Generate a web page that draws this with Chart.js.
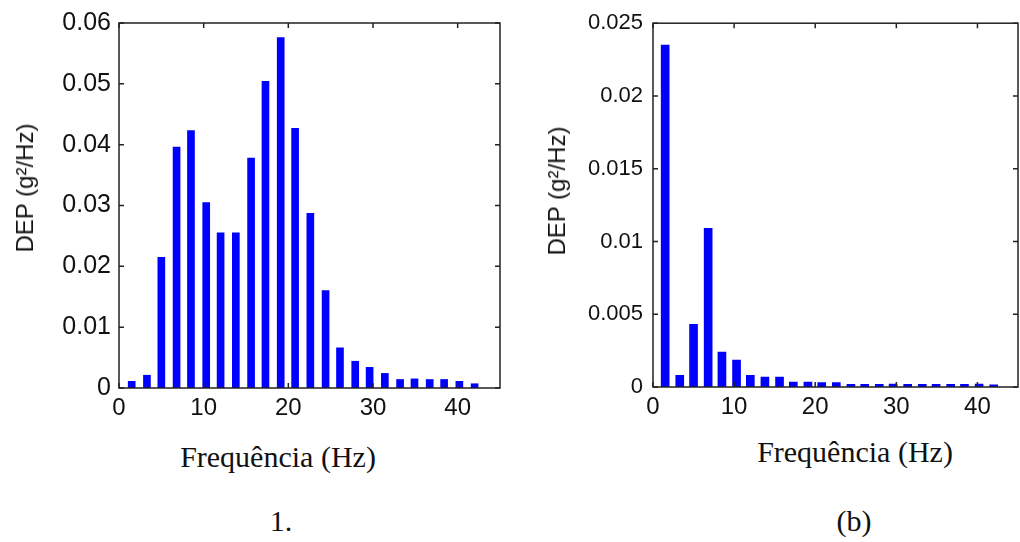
<!DOCTYPE html>
<html>
<head>
<meta charset="utf-8">
<script src="https://cdn.jsdelivr.net/npm/chart.js@4.4.1/dist/chart.umd.min.js"></script>
<style>
    html, body { margin: 0; padding: 0; background: #fff; }
    #pagina { position: relative; width: 1020px; height: 542px; overflow: hidden; }
    .grafico { position: absolute; top: 0; width: 510px; height: 430px; }
    .titulo-y { position: absolute; font: 24px "Liberation Sans", Arial, sans-serif; color: #111;
        white-space: nowrap; transform: translate(-50%, -50%) rotate(-90deg); }
    .titulo-x, .legenda { position: absolute; font: 30px "Liberation Serif", "Times New Roman", serif; color: #111;
        white-space: nowrap; transform: translateX(-50%); line-height: 34px; }
</style>
</head>
<body>
<div id="pagina">
    <div class="grafico" style="left:0"><canvas id="graficoA" width="510" height="430"></canvas></div>
    <div class="grafico" style="left:510px"><canvas id="graficoB" width="510" height="430"></canvas></div>
    <div class="titulo-y" style="left:25px; top:188px">DEP (g²/Hz)</div>
    <div class="titulo-y" style="left:557px; top:191px">DEP (g²/Hz)</div>
    <div class="titulo-x" style="left:278px; top:440px">Frequência (Hz)</div>
    <div class="titulo-x" style="left:855px; top:435px">Frequência (Hz)</div>
    <div class="legenda" style="left:281px; top:504px">1.</div>
    <div class="legenda" style="left:854px; top:504px">(b)</div>
</div>
<script>
// frequencias (Hz) das barras, iguais nos dois graficos
const frequencias = [1.5, 3.3, 5.0, 6.8, 8.5, 10.3, 12.0, 13.8, 15.6, 17.3, 19.1, 20.8,
    22.6, 24.4, 26.1, 27.9, 29.6, 31.4, 33.2, 34.9, 36.7, 38.4, 40.2, 42.0];

// DEP (g²/Hz) - grafico 1
const depA = [0.0011, 0.0021, 0.0215, 0.0396, 0.0423, 0.0305, 0.0255, 0.0255, 0.0378, 0.0504, 0.0576, 0.0427,
    0.0287, 0.0160, 0.0066, 0.0044, 0.0034, 0.0024, 0.0014, 0.0015, 0.0014, 0.0014, 0.0011, 0.0007];

// DEP (g²/Hz) - grafico (b)
const depB = [0.0235, 0.0008, 0.0043, 0.0109, 0.0024, 0.00185, 0.0008, 0.00068, 0.00068, 0.00034, 0.00034, 0.0003,
    0.0003, 0.00018, 0.00018, 0.00018, 0.0002, 0.00018, 0.00018, 0.00018, 0.00018, 0.00018, 0.0002, 0.00015];

const ticksX = [0, 10, 20, 30, 40];
const ticksYA = [0, 0.01, 0.02, 0.03, 0.04, 0.05, 0.06];
const ticksYB = [0, 0.005, 0.01, 0.015, 0.02, 0.025];

const caixaMatlab = {
    id: 'caixaMatlab',
    afterDraw(chart) {
        const { ctx, chartArea: a, scales } = chart;
        const t = 5;
        ctx.save();
        ctx.strokeStyle = '#222';
        ctx.lineWidth = 1.5;
        ctx.strokeRect(a.left, a.top, a.right - a.left, a.bottom - a.top);
        ctx.beginPath();
        scales.x.ticks.forEach(tk => {
            const px = scales.x.getPixelForValue(tk.value);
            ctx.moveTo(px, a.bottom); ctx.lineTo(px, a.bottom - t);
            ctx.moveTo(px, a.top); ctx.lineTo(px, a.top + t);
        });
        scales.y.ticks.forEach(tk => {
            const py = scales.y.getPixelForValue(tk.value);
            ctx.moveTo(a.left, py); ctx.lineTo(a.left + t, py);
            ctx.moveTo(a.right, py); ctx.lineTo(a.right - t, py);
        });
        ctx.stroke();
        ctx.restore();
    }
};

function montarGrafico(id, valores, ticksY, cfg) {
    const fonteX = { family: '"Liberation Sans", Arial, sans-serif', size: 24 };
    const fonteY = { family: '"Liberation Sans", Arial, sans-serif', size: cfg.fonteY };
    return new Chart(document.getElementById(id), {
        type: 'bar',
        data: {
            datasets: [{
                data: frequencias.map((f, i) => ({ x: f, y: valores[i] })),
                backgroundColor: '#0000ff',
                barThickness: cfg.barra,
            }],
        },
        options: {
            responsive: false,
            animation: false,
            devicePixelRatio: 1,
            layout: { padding: { left: 0, top: cfg.topo, right: cfg.direita, bottom: 0 } },
            plugins: { legend: { display: false }, tooltip: { enabled: false } },
            scales: {
                x: {
                    type: 'linear',
                    min: 0,
                    max: 45,
                    offset: false,
                    grid: { display: false, drawTicks: false },
                    border: { display: false },
                    afterBuildTicks: s => { s.ticks = ticksX.map(v => ({ value: v })); },
                    afterFit: s => { s.height = cfg.alturaX; },
                    ticks: { color: '#111', font: fonteX, padding: 6, maxRotation: 0 },
                },
                y: {
                    min: 0,
                    max: ticksY[ticksY.length - 1],
                    grid: { display: false, drawTicks: false },
                    border: { display: false },
                    afterBuildTicks: s => { s.ticks = ticksY.map(v => ({ value: v })); },
                    afterFit: s => { s.width = cfg.larguraY; },
                    ticks: {
                        color: '#111',
                        font: fonteY,
                        padding: cfg.padY,
                        callback: v => String(Number(v.toFixed(4))),
                    },
                },
            },
        },
        plugins: [caixaMatlab],
    });
}

montarGrafico('graficoA', depA, ticksYA, { barra: 7, topo: 17, direita: 10, alturaX: 42, larguraY: 119, fonteY: 25, padY: 8 });
montarGrafico('graficoB', depB, ticksYB, { barra: 8, topo: 16, direita: 2, alturaX: 43, larguraY: 143, fonteY: 22, padY: 10 });
</script>
</body>
</html>
